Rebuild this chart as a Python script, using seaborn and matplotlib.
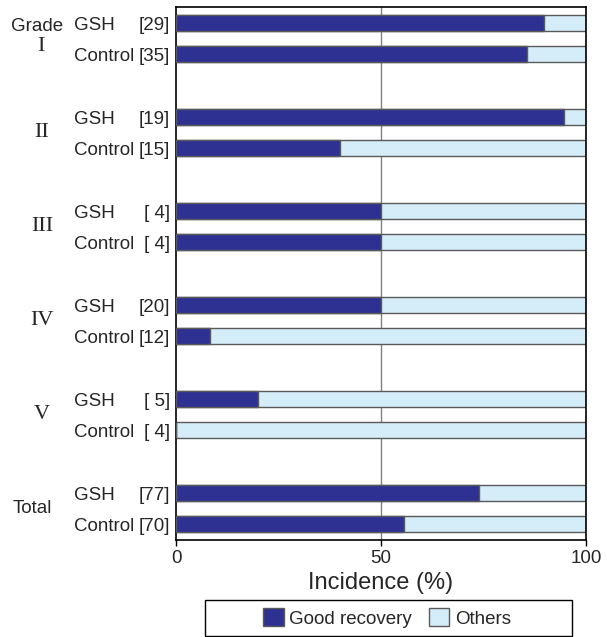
import numpy as np
import pandas as pd
import matplotlib
matplotlib.use("Agg")
import matplotlib.pyplot as plt
from matplotlib.patches import Patch, Rectangle
import seaborn as sns

# data
grades = ["I", "II", "III", "IV", "V", "Total"]
gsh_n = [29, 19, 4, 20, 5, 77]
ctrl_n = [35, 15, 4, 12, 4, 70]
gsh_good = [89.7, 94.7, 50, 50, 20, 74.0]      # % good recovery, GSH
ctrl_good = [85.7, 40, 50, 8.3, 0, 55.7]       # % good recovery, Control

dark = "#2E3192"
light = "#D5ECF9"
edge = "#5a5a5a"

rows = []
for i, g in enumerate(grades):
    rows.append(dict(grade=g, arm="GSH", n=gsh_n[i], good=gsh_good[i], pos=3 * i))
    rows.append(dict(grade=g, arm="Control", n=ctrl_n[i], good=ctrl_good[i], pos=3 * i + 1))
df = pd.DataFrame(rows)
df["total"] = 100.0

sns.set_theme(style="white")
plt.rcParams["font.family"] = ["Liberation Sans", "DejaVu Sans"]

fig = plt.figure(figsize=(6.07, 6.37), dpi=100)
ax = fig.add_axes([176 / 607, 1 - 540 / 637, 410 / 607, 533 / 637])

ax.axvline(50, color="#808080", lw=1, zorder=0)
sns.barplot(data=df, x="total", y="pos", orient="h", native_scale=True, width=0.5,
            color=light, saturation=1, edgecolor=edge, linewidth=1, ax=ax, zorder=2)
sns.barplot(data=df, x="good", y="pos", orient="h", native_scale=True, width=0.5,
            color=dark, saturation=1, edgecolor=edge, linewidth=1, ax=ax, zorder=3)

ax.set_xlim(0, 100)
ax.set_ylim(16.5, -0.5)
ax.set_yticks([])
ax.set_ylabel("")
ax.set_xticks([0, 50, 100])
ax.tick_params(axis="x", direction="out", length=4, width=1, color="black",
               labelsize=13.5, pad=3, bottom=True)
ax.set_xlabel("Incidence (%)", fontsize=17, labelpad=4)
for s in ax.spines.values():
    s.set_color("black")
    s.set_linewidth(1.2)

# row labels on the left
tr = ax.get_yaxis_transform()
dy = 0.08
for _, r in df.iterrows():
    ax.text(-102 / 410, r.pos + dy, r.arm, transform=tr, ha="left", va="center", fontsize=13.5)
    lab = "[%2d]" % r.n
    ax.text(-6 / 410, r.pos + dy, lab, transform=tr, ha="right", va="center", fontsize=13.5)

for i, g in enumerate(grades):
    mid = 3 * i + 0.5
    if g == "I":
        ax.text(-139 / 410, 0.12, "Grade", transform=tr, ha="center", va="center", fontsize=13.5)
        ax.text(-135 / 410, 0.75, "I", transform=tr, ha="center", va="center",
                fontsize=16, family="Liberation Serif")
    elif g == "Total":
        ax.text(-144 / 410, mid, "Total", transform=tr, ha="center", va="center", fontsize=13.5)
    else:
        ax.text(-134 / 410, mid, g, transform=tr, ha="center", va="center",
                fontsize=16, family="Liberation Serif")

# legend with a wide box underneath
fig.patches.append(Rectangle((205 / 607, 1 - 636 / 637), 367 / 607, 36 / 637,
                             transform=fig.transFigure, facecolor="white",
                             edgecolor="black", lw=1, zorder=0))
handles = [Patch(facecolor=dark, edgecolor=edge, label="Good recovery"),
           Patch(facecolor=light, edgecolor=edge, label="Others")]
fig.legend(handles=handles, ncol=2, loc="center", bbox_to_anchor=(387 / 607, 1 - 618 / 637),
           fontsize=13.5, frameon=False,
           handlelength=1.1, handleheight=1.05, handletextpad=0.3, columnspacing=0.9,
           borderpad=0, borderaxespad=0)

fig.savefig("out.png", dpi=100)
